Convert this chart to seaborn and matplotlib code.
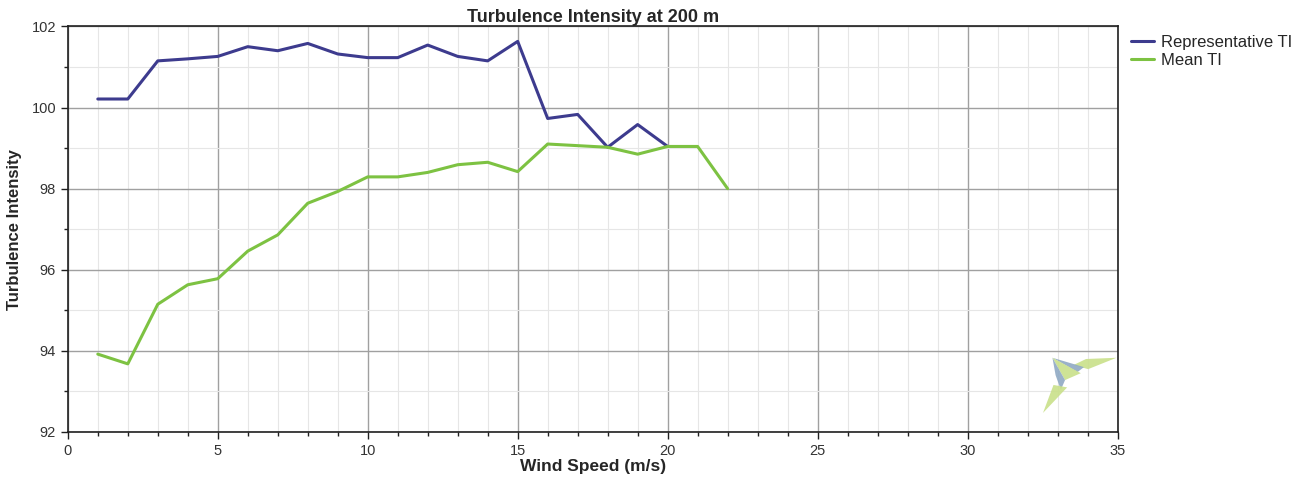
import matplotlib
matplotlib.use("Agg")
import matplotlib.pyplot as plt
import seaborn as sns
import pandas as pd
from matplotlib.ticker import MultipleLocator
from matplotlib.patches import Polygon

wind_speed_rep = [1, 2, 3, 4, 5, 6, 7, 8, 9, 10, 11, 12, 13, 14, 15, 16, 17, 18, 19, 20]
representative_ti = [100.21, 100.21, 101.15, 101.2, 101.26, 101.5, 101.4, 101.58, 101.32, 101.23,
                     101.23, 101.54, 101.26, 101.15, 101.63, 99.73, 99.83, 99.02, 99.58, 99.04]
wind_speed_mean = [1, 2, 3, 4, 5, 6, 7, 8, 9, 10, 11, 12, 13, 14, 15, 16, 17, 18, 19, 20, 21, 22]
mean_ti = [93.92, 93.68, 95.15, 95.63, 95.78, 96.46, 96.86, 97.64, 97.93, 98.29, 98.29,
           98.4, 98.59, 98.65, 98.42, 99.1, 99.06, 99.02, 98.85, 99.04, 99.04, 98.0]

df = pd.concat([
    pd.DataFrame({"Wind Speed": wind_speed_rep, "TI": representative_ti, "Series": "Representative TI"}),
    pd.DataFrame({"Wind Speed": wind_speed_mean, "TI": mean_ti, "Series": "Mean TI"}),
])

sns.set_theme(style="white")
plt.rcParams["font.family"] = ["Liberation Sans", "DejaVu Sans"]

fig = plt.figure(figsize=(13.04, 4.8), dpi=100)
ax = fig.add_axes([0.052, 0.1, 0.805, 0.845])

palette = {"Representative TI": "#3d3b8e", "Mean TI": "#7dc242"}
sns.lineplot(data=df, x="Wind Speed", y="TI", hue="Series", palette=palette,
             linewidth=2.2, ax=ax, legend=True)

ax.set_xlim(0, 35)
ax.set_ylim(92, 102)
ax.xaxis.set_major_locator(MultipleLocator(5))
ax.xaxis.set_minor_locator(MultipleLocator(1))
ax.yaxis.set_major_locator(MultipleLocator(2))
ax.yaxis.set_minor_locator(MultipleLocator(1))
ax.grid(which="major", color="#a0a0a0", linewidth=1.0)
ax.grid(which="minor", color="#e6e6e6", linewidth=0.8)
ax.set_axisbelow(True)
for s in ax.spines.values():
    s.set_color("#202020")
    s.set_linewidth(1.2)
ax.tick_params(which="major", direction="out", length=5, width=1, color="#202020",
               labelsize=10.5, labelcolor="#333333", bottom=True, left=True)
ax.tick_params(which="minor", direction="out", length=3, width=1, color="#202020",
               bottom=True, left=True)

ax.set_title("Turbulence Intensity at 200 m", fontsize=13, fontweight="bold", pad=1)
ax.set_xlabel("Wind Speed (m/s)", fontsize=12.5, fontweight="bold", labelpad=1)
ax.set_ylabel("Turbulence Intensity", fontsize=12, fontweight="bold", labelpad=7)

ax.legend(loc="upper left", bbox_to_anchor=(1.005, 1.0), frameon=False, fontsize=12,
          handlelength=1.4, handletextpad=0.4, borderaxespad=0.1, labelspacing=0.2)

# faint watermark logo
logo_polys = [
    ([(0.958, 0.165), (0.97, 0.18), (0.999, 0.183), (0.972, 0.155)], "#c9e08a"),
    ([(0.938, 0.183), (0.968, 0.16), (0.962, 0.148)], "#8fa9c4"),
    ([(0.938, 0.183), (0.965, 0.145), (0.95, 0.128)], "#c9e08a"),
    ([(0.938, 0.183), (0.95, 0.128), (0.946, 0.104), (0.941, 0.14)], "#8fa9c4"),
    ([(0.929, 0.047), (0.939, 0.116), (0.952, 0.11)], "#c9e08a"),
]
for pts, col in logo_polys:
    ax.add_patch(Polygon(pts, closed=True, transform=ax.transAxes, facecolor=col,
                         edgecolor="none", alpha=0.9, zorder=1))

fig.savefig("out.png", dpi=100)
